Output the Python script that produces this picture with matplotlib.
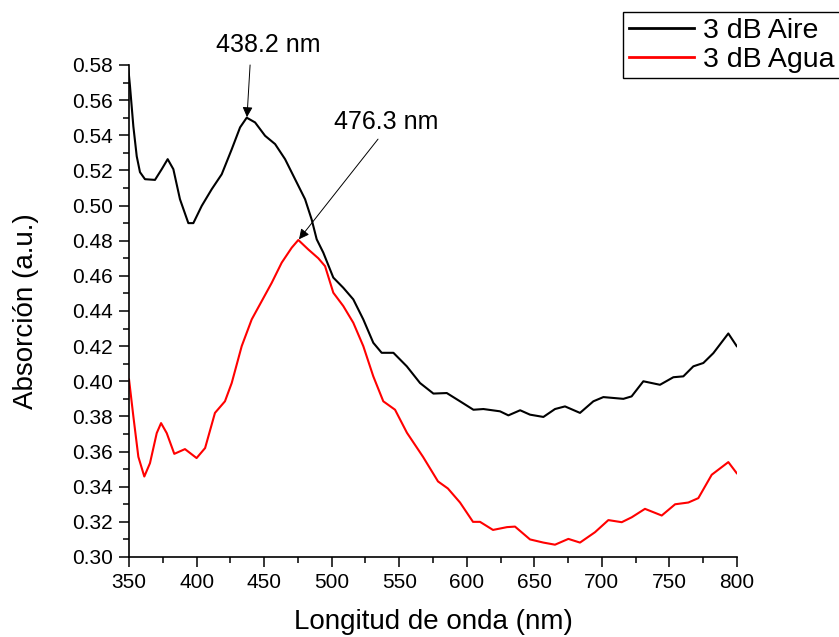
import numpy as np
import matplotlib
matplotlib.use('Agg')
import matplotlib.pyplot as plt
from matplotlib.ticker import MultipleLocator, FormatStrFormatter

# espectros (nm, a.u.)
wl_aire = [349.5, 350.7, 353.2, 355.7, 358.1, 361.8, 369.2, 374.2, 378.6, 382.8, 387.7,
           393.9, 397.6, 403.8, 411.2, 418.6, 426.0, 432.2, 437.1, 443.3, 450.7, 458.1,
           465.5, 472.9, 480.3, 485.2, 488.9, 493.8, 501.2, 508.6, 516.0, 523.4, 530.8,
           537.0, 545.7, 555.6, 565.4, 575.3, 585.2, 595.0, 604.9, 612.3, 624.6, 630.8,
           639.5, 646.8, 656.7, 665.3, 672.7, 683.8, 693.7, 701.1, 715.9, 722.0, 730.7,
           743.0, 752.9, 760.3, 767.7, 775.1, 782.5, 793.6, 799.8]
abs_aire = [0.5777, 0.568, 0.545, 0.528, 0.519, 0.515, 0.5146, 0.5207, 0.5264, 0.5207,
            0.5036, 0.490, 0.490, 0.4998, 0.5093, 0.5178, 0.532, 0.5445, 0.550, 0.5473,
            0.5397, 0.535, 0.5264, 0.515, 0.5036, 0.492, 0.4808, 0.4732, 0.459, 0.4532,
            0.4466, 0.4352, 0.4219, 0.4162, 0.4162, 0.4085, 0.399, 0.393, 0.3933, 0.3886,
            0.3838, 0.3842, 0.3829, 0.3806, 0.3835, 0.381, 0.3797, 0.3842, 0.3857, 0.382,
            0.3886, 0.391, 0.390, 0.3914, 0.400, 0.398, 0.4023, 0.4028, 0.4085, 0.4104,
            0.416, 0.4272, 0.420]

wl_agua = [350.0, 353.2, 356.9, 361.3, 365.5, 370.5, 373.7, 377.9, 383.5, 391.4, 400.0,
           406.3, 413.6, 421.0, 426.0, 433.4, 440.8, 448.2, 455.6, 463.0, 470.4, 475.3,
           482.7, 490.1, 495.1, 501.2, 508.6, 516.0, 523.4, 530.8, 538.2, 546.9, 555.7,
           567.6, 578.7, 586.0, 595.0, 604.6, 609.8, 619.4, 629.8, 635.7, 646.8, 656.7,
           665.3, 675.2, 683.8, 694.9, 704.8, 714.7, 722.1, 731.9, 744.3, 754.2, 764.0,
           771.4, 781.3, 793.6, 799.8]
abs_agua = [0.401, 0.380, 0.357, 0.3458, 0.3534, 0.3705, 0.3762, 0.3705, 0.3587, 0.3614,
            0.3563, 0.362, 0.382, 0.3886, 0.399, 0.420, 0.4352, 0.4456, 0.456, 0.4675,
            0.476, 0.4804, 0.475, 0.470, 0.4655, 0.4504, 0.4428, 0.4333, 0.420, 0.4028,
            0.3886, 0.3838, 0.3707, 0.357, 0.343, 0.339, 0.331, 0.320, 0.320, 0.3154,
            0.317, 0.3173, 0.310, 0.3082, 0.307, 0.3103, 0.3082, 0.3141, 0.321, 0.3198,
            0.3226, 0.3274, 0.3236, 0.330, 0.331, 0.3335, 0.3468, 0.354, 0.3477]

# picos marcados: (nm, absorcion), texto, posicion del texto, inicio de la flecha
peak_xy = [(437.3, 0.5503), (475.8, 0.4808)]
peak_txt = ['438.2 nm', '476.3 nm']
txt_xy = [(452.9, 0.5846), (540.2, 0.5407)]
arrow_from = [(439.6, 0.580), (534.3, 0.5378)]

plt.rcParams['font.family'] = ['Liberation Sans', 'DejaVu Sans']

fig = plt.figure(figsize=(8.39, 6.37), dpi=100)
ax = fig.add_axes([0.1538, 0.1256, 0.7246, 0.7724])

ax.plot(wl_aire, abs_aire, color='black', lw=1.5, label='3 dB Aire')
ax.plot(wl_agua, abs_agua, color='red', lw=1.5, label='3 dB Agua')

for p, t, txy, a0 in zip(peak_xy, peak_txt, txt_xy, arrow_from):
    ax.text(txy[0], txy[1], t, fontsize=18, ha='center', va='bottom', clip_on=False)
    ax.annotate('', xy=p, xytext=a0, annotation_clip=False,
                arrowprops=dict(arrowstyle='-|>', color='black', lw=0.7,
                                mutation_scale=15, shrinkA=0, shrinkB=0))

ax.set_xlim(350, 800)
ax.set_ylim(0.30, 0.58)
ax.xaxis.set_major_locator(MultipleLocator(50))
ax.xaxis.set_minor_locator(MultipleLocator(25))
ax.yaxis.set_major_locator(MultipleLocator(0.02))
ax.yaxis.set_minor_locator(MultipleLocator(0.01))
ax.yaxis.set_major_formatter(FormatStrFormatter('%.2f'))

for s in ['top', 'right']:
    ax.spines[s].set_visible(False)
for s in ['left', 'bottom']:
    ax.spines[s].set_linewidth(1.2)

ax.tick_params(which='major', direction='out', length=7.5, width=1.1, labelsize=15, pad=4)
ax.tick_params(which='minor', direction='out', length=4, width=1.1)

ax.set_xlabel('Longitud de onda (nm)', fontsize=20, labelpad=12)
ax.set_ylabel('Absorción (a.u.)', fontsize=20, labelpad=24)

leg = fig.legend(loc='upper left', bbox_to_anchor=(623 / 839, 1 - 12 / 637),
                 fontsize=20.5, fancybox=False, framealpha=1, edgecolor='black',
                 handlelength=2.3, borderpad=0.2, labelspacing=0.1, handletextpad=0.3,
                 borderaxespad=0)
leg.get_frame().set_linewidth(1.0)
for line in leg.get_lines():
    line.set_linewidth(2)

fig.savefig('out.png', dpi=100)
